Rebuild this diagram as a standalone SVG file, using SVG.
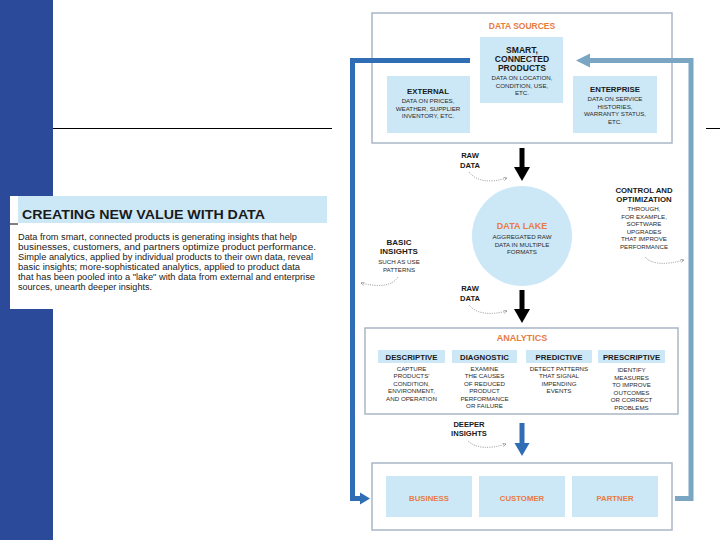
<svg xmlns="http://www.w3.org/2000/svg" width="720" height="540" viewBox="0 0 720 540">
<style>
.box{fill:#fff;stroke:#a9b7c6;stroke-width:1.5}
.lb{fill:#cce8f7}
.h{font-family:"Liberation Sans",Arial,sans-serif;font-weight:bold;fill:#1a1a1a;text-anchor:middle}
.d{font-family:"Liberation Sans",Arial,sans-serif;fill:#2a2a2a;text-anchor:middle;font-size:6.2px}
.o{font-family:"Liberation Sans",Arial,sans-serif;font-weight:bold;fill:#e87b42;text-anchor:middle}
.body{font-family:"Liberation Sans",Arial,sans-serif;fill:#1a1a1a;font-size:8.5px}
.dot{fill:none;stroke:#777;stroke-width:0.8;stroke-dasharray:1 1.3;marker-end:url(#sm)}
</style>
<defs>
<marker id="sm" viewBox="0 0 6 6" refX="5" refY="3" markerWidth="5" markerHeight="5" orient="auto"><path d="M0,0.5 L5,3 L0,5.5" fill="none" stroke="#777" stroke-width="0.8"/></marker>
</defs>
<rect width="720" height="540" fill="#fff"/>
<rect x="0" y="0" width="53" height="540" fill="#2b4a9a"/>
<line x1="53" y1="128.5" x2="332" y2="128.5" stroke="#000" stroke-width="1.2"/>
<line x1="706" y1="128.5" x2="720" y2="128.5" stroke="#000" stroke-width="1"/>

<g id="intro">
<rect x="10" y="196" width="320" height="113" fill="#fff"/>
<rect x="18" y="196" width="309" height="27" fill="#cce8f7"/>
<line x1="10" y1="224" x2="18" y2="224" stroke="#000" stroke-width="1"/>
<text x="22" y="219" font-family="Liberation Sans, Arial, sans-serif" font-weight="bold" font-size="13" fill="#1a1a1a" textLength="243" lengthAdjust="spacingAndGlyphs">CREATING NEW VALUE WITH DATA</text>
<text class="body" x="18" y="240" textLength="279" lengthAdjust="spacingAndGlyphs">Data from smart, connected products is generating insights that help</text>
<text class="body" x="18" y="250" textLength="298" lengthAdjust="spacingAndGlyphs">businesses, customers, and partners optimize product performance.</text>
<text class="body" x="18" y="260" textLength="295" lengthAdjust="spacingAndGlyphs">Simple analytics, applied by individual products to their own data, reveal</text>
<text class="body" x="18" y="270" textLength="282" lengthAdjust="spacingAndGlyphs">basic insights; more-sophisticated analytics, applied to product data</text>
<text class="body" x="18" y="280" textLength="297" lengthAdjust="spacingAndGlyphs">that has been pooled into a "lake" with data from external and enterprise</text>
<text class="body" x="18" y="290" textLength="134" lengthAdjust="spacingAndGlyphs">sources, unearth deeper insights.</text>
</g>

<g id="data-sources">
<rect class="box" x="372" y="13" width="300" height="130"/>
<text class="o" x="522" y="29" font-size="8.5">DATA SOURCES</text>
</g>
<g id="smart-products">
<rect class="lb" x="480" y="37" width="83" height="66"/>
<text class="h" x="522" y="53" font-size="8.6">SMART,</text>
<text class="h" x="522" y="62" font-size="8.6">CONNECTED</text>
<text class="h" x="522" y="71" font-size="8.6">PRODUCTS</text>
<text class="d" x="522" y="80">DATA ON LOCATION,</text>
<text class="d" x="522" y="87.5">CONDITION, USE,</text>
<text class="d" x="522" y="95">ETC.</text>
</g>
<g id="external">
<rect class="lb" x="387" y="76" width="83" height="57"/>
<text class="h" x="428" y="94" font-size="7.8">EXTERNAL</text>
<text class="d" x="428" y="103">DATA ON PRICES,</text>
<text class="d" x="428" y="110.5">WEATHER, SUPPLIER</text>
<text class="d" x="428" y="118">INVENTORY, ETC.</text>
</g>
<g id="enterprise">
<rect class="lb" x="573" y="76" width="84" height="57"/>
<text class="h" x="615" y="92" font-size="7.8">ENTERPRISE</text>
<text class="d" x="615" y="101">DATA ON SERVICE</text>
<text class="d" x="615" y="108.5">HISTORIES,</text>
<text class="d" x="615" y="116">WARRANTY STATUS,</text>
<text class="d" x="615" y="123.5">ETC.</text>
</g>

<g id="data-lake">
<circle cx="522" cy="236" r="50" fill="#cce8f7"/>
<text class="o" x="522" y="229" font-size="9">DATA LAKE</text>
<text class="d" x="522" y="239">AGGREGATED RAW</text>
<text class="d" x="522" y="246.5">DATA IN MULTIPLE</text>
<text class="d" x="522" y="254">FORMATS</text>
</g>

<g id="basic-insights">
<text class="h" x="399" y="245" font-size="8">BASIC</text>
<text class="h" x="399" y="254" font-size="8">INSIGHTS</text>
<text class="d" x="399" y="264" font-size="6.6">SUCH AS USE</text>
<text class="d" x="399" y="271.5" font-size="6.6">PATTERNS</text>
</g>

<g id="control-optimization">
<text class="h" x="644" y="193" font-size="7.8">CONTROL AND</text>
<text class="h" x="644" y="202" font-size="7.8">OPTIMIZATION</text>
<text class="d" x="644" y="211" font-size="6.4">THROUGH,</text>
<text class="d" x="644" y="218.5" font-size="6.4">FOR EXAMPLE,</text>
<text class="d" x="644" y="226" font-size="6.4">SOFTWARE</text>
<text class="d" x="644" y="233.5" font-size="6.4">UPGRADES</text>
<text class="d" x="644" y="241" font-size="6.4">THAT IMPROVE</text>
<text class="d" x="644" y="248.5" font-size="6.4">PERFORMANCE</text>
</g>

<g id="analytics">
<rect class="box" x="365" y="328" width="313" height="86"/>
<text class="o" x="522" y="341" font-size="9">ANALYTICS</text>
</g>
<g id="descriptive">
<rect class="lb" x="378" y="350" width="67" height="13"/>
<text class="h" x="411.5" y="359.5" font-size="7.8">DESCRIPTIVE</text>
<text class="d" x="411.5" y="370.5">CAPTURE</text>
<text class="d" x="411.5" y="378">PRODUCTS'</text>
<text class="d" x="411.5" y="385.5">CONDITION,</text>
<text class="d" x="411.5" y="393">ENVIRONMENT,</text>
<text class="d" x="411.5" y="400.5">AND OPERATION</text>
</g>
<g id="diagnostic">
<rect class="lb" x="452" y="350" width="65" height="13"/>
<text class="h" x="484.5" y="359.5" font-size="7.8">DIAGNOSTIC</text>
<text class="d" x="484.5" y="370.5">EXAMINE</text>
<text class="d" x="484.5" y="378">THE CAUSES</text>
<text class="d" x="484.5" y="385.5">OF REDUCED</text>
<text class="d" x="484.5" y="393">PRODUCT</text>
<text class="d" x="484.5" y="400.5">PERFORMANCE</text>
<text class="d" x="484.5" y="408">OR FAILURE</text>
</g>
<g id="predictive">
<rect class="lb" x="526" y="350" width="66" height="13"/>
<text class="h" x="559" y="359.5" font-size="7.8">PREDICTIVE</text>
<text class="d" x="559" y="370.5">DETECT PATTERNS</text>
<text class="d" x="559" y="378">THAT SIGNAL</text>
<text class="d" x="559" y="385.5">IMPENDING</text>
<text class="d" x="559" y="393">EVENTS</text>
</g>
<g id="prescriptive">
<rect class="lb" x="598" y="350" width="67" height="13"/>
<text class="h" x="631.5" y="359.5" font-size="7.8">PRESCRIPTIVE</text>
<text class="d" x="631.5" y="372">IDENTIFY</text>
<text class="d" x="631.5" y="379.5">MEASURES</text>
<text class="d" x="631.5" y="387">TO IMPROVE</text>
<text class="d" x="631.5" y="394.5">OUTCOMES</text>
<text class="d" x="631.5" y="402">OR CORRECT</text>
<text class="d" x="631.5" y="409.5">PROBLEMS</text>
</g>

<g id="stakeholders">
<rect class="box" x="372" y="463" width="300" height="67"/>
</g>
<g id="business">
<rect class="lb" x="386" y="476" width="86" height="41"/>
<text class="o" x="429" y="500.5" font-size="7.8">BUSINESS</text>
</g>
<g id="customer">
<rect class="lb" x="479" y="476" width="86" height="41"/>
<text class="o" x="522" y="500.5" font-size="7.8">CUSTOMER</text>
</g>
<g id="partner">
<rect class="lb" x="572" y="476" width="86" height="41"/>
<text class="o" x="615" y="501" font-size="7.8">PARTNER</text>
</g>

<g id="connectors">
<path d="M470,60.5 H352.5 V498.5 H362" fill="none" stroke="#2f6db5" stroke-width="5"/>
<path d="M360,492.5 L370,498.5 L360,504.5 Z" fill="#2f6db5"/>
<path d="M675,498.5 H691 V60.5 H588" fill="none" stroke="#7aa6c3" stroke-width="5"/>
<path d="M590,53.5 L576,60.5 L590,67.5 Z" fill="#7aa6c3"/>
<line x1="522" y1="148" x2="522" y2="168" stroke="#000" stroke-width="5"/>
<path d="M514,167 L530,167 L522,181 Z" fill="#000"/>
<line x1="522" y1="290" x2="522" y2="310" stroke="#000" stroke-width="5"/>
<path d="M514,309 L530,309 L522,323 Z" fill="#000"/>
<line x1="522" y1="423" x2="522" y2="444" stroke="#2f6db5" stroke-width="5"/>
<path d="M514.5,443 L529.5,443 L522,456 Z" fill="#2f6db5"/>
<text class="h" x="470" y="158" font-size="7.6">RAW</text>
<text class="h" x="470" y="168" font-size="7.6">DATA</text>
<path class="dot" d="M469,172 Q480,186 507,178"/>
<text class="h" x="470" y="291" font-size="7.6">RAW</text>
<text class="h" x="470" y="301" font-size="7.6">DATA</text>
<path class="dot" d="M469,305 Q480,318 507,311"/>
<text class="h" x="469" y="427" font-size="7.6">DEEPER</text>
<text class="h" x="469" y="436" font-size="7.6">INSIGHTS</text>
<path class="dot" d="M468,441 Q480,452 506,444"/>
<path class="dot" d="M398,277 Q390,290 361,283"/>
<path class="dot" d="M645,257 Q655,268 684,260"/>
</g>
</svg>
